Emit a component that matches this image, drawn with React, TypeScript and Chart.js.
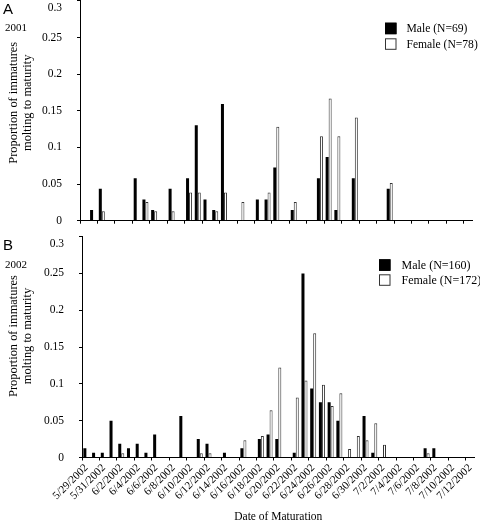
import React, { useEffect, useRef } from 'react';
import { Chart, registerables } from 'chart.js';

Chart.register(...registerables);
Chart.defaults.font.family = '"Liberation Serif", "Times New Roman", serif';
Chart.defaults.color = '#000';

// ---------- data ----------
const dates = [
  '5/29/2002', '5/30/2002', '5/31/2002', '6/1/2002', '6/2/2002', '6/3/2002', '6/4/2002', '6/5/2002',
  '6/6/2002', '6/7/2002', '6/8/2002', '6/9/2002', '6/10/2002', '6/11/2002', '6/12/2002', '6/13/2002',
  '6/14/2002', '6/15/2002', '6/16/2002', '6/17/2002', '6/18/2002', '6/19/2002', '6/20/2002', '6/21/2002',
  '6/22/2002', '6/23/2002', '6/24/2002', '6/25/2002', '6/26/2002', '6/27/2002', '6/28/2002', '6/29/2002',
  '6/30/2002', '7/1/2002', '7/2/2002', '7/3/2002', '7/4/2002', '7/5/2002', '7/6/2002', '7/7/2002',
  '7/8/2002', '7/9/2002', '7/10/2002', '7/11/2002', '7/12/2002',
];

const yTickValues = [0, 0.05, 0.1, 0.15, 0.2, 0.25, 0.3];
const yTickLabels = ['0', '0.05', '0.1', '0.15', '0.2', '0.25', '0.3'];
const yTitle = ['Proportion of immatures', 'molting to maturity'];
const xTitle = 'Date of Maturation';

// Panel A (2001)
const legendA = ['Male (N=69)', 'Female (N=78)'];
const maleA = [
  null, 0.0145, 0.0435, null, null, null, 0.058, 0.029, 0.0145, null,
  0.0435, null, 0.058, 0.1304, 0.029, 0.0145, 0.1594, null, null, null,
  0.029, 0.029, 0.0725, null, 0.0145, null, null, 0.058, 0.087, 0.0145,
  null, 0.058, null, null, null, 0.0435, null, null, null, null,
  null, null, null, null, null,
];
const femaleA = [
  null, null, 0.0128, null, null, null, null, 0.0256, 0.0128, null,
  0.0128, null, 0.0385, 0.0385, null, 0.0128, 0.0385, null, 0.0256, null,
  null, 0.0385, 0.1282, null, 0.0256, null, null, 0.1154, 0.1667, 0.1154,
  null, 0.141, null, null, null, 0.0513, null, null, null, null,
  null, null, null, null, null,
];

// Panel B (2002)
const legendB = ['Male (N=160)', 'Female (N=172)'];
const maleB = [
  0.0125, 0.0063, 0.0063, 0.05, 0.0188, 0.0125, 0.0188, 0.0063, 0.0313, null,
  null, 0.0563, null, 0.025, 0.0188, null, 0.0063, null, 0.0125, null,
  0.025, 0.0313, 0.025, null, 0.0063, 0.25, 0.0938, 0.075, 0.075, 0.05,
  null, null, 0.0563, 0.0063, null, null, null, null, null, 0.0125,
  0.0125, null, null, null, null,
];
const femaleB = [
  null, null, null, null, 0.0058, null, null, null, null, null,
  null, null, null, 0.0058, 0.0058, null, null, null, 0.0233, null,
  0.0291, 0.064, 0.1221, null, 0.0814, 0.1047, 0.1686, 0.0988, 0.0698, 0.0872,
  0.0116, 0.0291, 0.0233, 0.0465, 0.0174, null, null, null, null, 0.0058,
  null, null, null, null, null,
];

// ---------- chart helpers ----------
function decorPlugin(p: any) {
  return {
    id: 'decor',
    afterDraw(chart: any) {
      const { ctx, chartArea } = chart;
      ctx.save();
      ctx.fillStyle = '#000';
      ctx.textAlign = 'left';
      ctx.textBaseline = 'alphabetic';
      ctx.font = '15px "Liberation Sans", Arial, sans-serif';
      ctx.fillText(p.letter, 3, p.letterY);
      ctx.font = '11px "Liberation Serif", serif';
      ctx.fillText(p.year, 5, p.yearY);

      // y axis title (two lines, rotated)
      ctx.save();
      const cy = (chartArea.top + chartArea.bottom) / 2 + p.titleShift;
      ctx.translate(14, cy);
      ctx.rotate(-Math.PI / 2);
      ctx.textAlign = 'center';
      ctx.textBaseline = 'middle';
      ctx.font = '12.4px "Liberation Serif", serif';
      yTitle.forEach((line, i) => ctx.fillText(line, 0, i * 14));
      ctx.restore();

      // legend
      chart.data.datasets.forEach((ds: any, i: number) => {
        const y = p.legendY + i * p.legendGap;
        ctx.fillStyle = ds.backgroundColor;
        ctx.fillRect(p.legendX, y, 11.5, 11.5);
        ctx.strokeStyle = ds.borderColor;
        ctx.lineWidth = 1;
        ctx.strokeRect(p.legendX + 0.5, y + 0.5, 10.5, 10.5);
        ctx.fillStyle = '#000';
        ctx.textAlign = 'left';
        ctx.textBaseline = 'middle';
        ctx.font = p.legendFont;
        ctx.fillText(ds.label, p.legendTextX, y + 6.5);
      });
      ctx.restore();
    },
  };
}

function makeConfig(p: any) {
  return {
    type: 'bar',
    data: {
      labels: dates,
      datasets: [
        {
          label: p.labels[0],
          data: p.male,
          backgroundColor: '#000',
          borderColor: '#000',
          borderWidth: 0,
          barPercentage: 1,
          categoryPercentage: 0.69,
        },
        {
          label: p.labels[1],
          data: p.female,
          backgroundColor: '#fff',
          borderColor: '#333',
          borderWidth: 1,
          barPercentage: 1,
          categoryPercentage: 0.69,
        },
      ],
    },
    options: {
      responsive: false,
      animation: false,
      events: [],
      layout: { padding: { left: 0, right: p.padRight, top: p.padTop, bottom: 0 } },
      plugins: { legend: { display: false }, tooltip: { enabled: false } },
      scales: {
        x: {
          offset: true,
          grid: {
            display: true,
            offset: true,
            drawOnChartArea: false,
            drawTicks: true,
            tickLength: 3,
            color: (c: any) => (c.index % 2 === 0 ? '#000' : 'rgba(0,0,0,0)'),
          },
          border: { display: true, color: '#000', width: 1 },
          ticks: {
            display: p.showX,
            autoSkip: false,
            maxRotation: 45,
            minRotation: 45,
            padding: 1,
            font: { size: 11 },
            callback: (_v: any, i: number) => (i % 2 === 0 ? dates[i] : ''),
          },
          title: {
            display: p.showX,
            text: xTitle,
            font: { size: 11.5 },
            padding: { top: 0, bottom: 1 },
          },
          afterFit: (s: any) => {
            s.height = p.xHeight;
            s.paddingLeft = 0;
            s.paddingRight = 0;
          },
        },
        y: {
          min: 0,
          max: 0.3,
          afterBuildTicks: (s: any) => {
            s.ticks = yTickValues.map((v) => ({ value: v }));
          },
          grid: {
            display: true,
            drawOnChartArea: false,
            drawTicks: true,
            tickLength: 3,
            color: '#000',
          },
          border: { display: true, color: '#000', width: 1 },
          ticks: {
            padding: 15,
            font: { size: 11.5 },
            callback: (_v: any, i: number) =>
              i === yTickLabels.length - 1 ? ['', yTickLabels[i]] : yTickLabels[i],
          },
          afterFit: (s: any) => {
            s.width = p.yWidth;
            s.paddingTop = 0;
            s.paddingBottom = 0;
          },
        },
      },
    },
    plugins: [decorPlugin(p)],
  };
}

function Panel({ top, height, params }: any) {
  const ref = useRef<HTMLCanvasElement>(null);
  useEffect(() => {
    const chart = new Chart(ref.current as HTMLCanvasElement, makeConfig(params) as any);
    return () => chart.destroy();
  }, []);
  return (
    <canvas
      ref={ref}
      width={480}
      height={height}
      style={{ position: 'absolute', left: 0, top, width: 480, height, display: 'block' }}
    />
  );
}

const paramsA = {
  labels: legendA,
  male: maleA,
  female: femaleA,
  letter: 'A',
  year: '2001',
  letterY: 14,
  yearY: 31,
  showX: false,
  yWidth: 80,
  padTop: 0.9,
  padRight: 7.4,
  xHeight: 5.3,
  legendX: 385,
  legendY: 22.7,
  legendGap: 15.6,
  legendTextX: 406.5,
  legendFont: '11.6px "Liberation Serif", serif',
  titleShift: -8,
};

const paramsB = {
  labels: legendB,
  male: maleB,
  female: femaleB,
  letter: 'B',
  year: '2002',
  letterY: 24,
  yearY: 42,
  showX: true,
  yWidth: 82,
  padTop: 10.6,
  padRight: 5.4,
  xHeight: 67.5,
  legendX: 379,
  legendY: 33.3,
  legendGap: 15,
  legendTextX: 401.5,
  legendFont: '12px "Liberation Serif", serif',
  titleShift: -11,
};

export default function App() {
  return (
    <div style={{ position: 'absolute', left: 0, top: 0, width: 480, height: 525, background: '#fff' }}>
      <Panel top={0} height={226} params={paramsA} />
      <Panel top={226} height={299} params={paramsB} />
    </div>
  );
}
